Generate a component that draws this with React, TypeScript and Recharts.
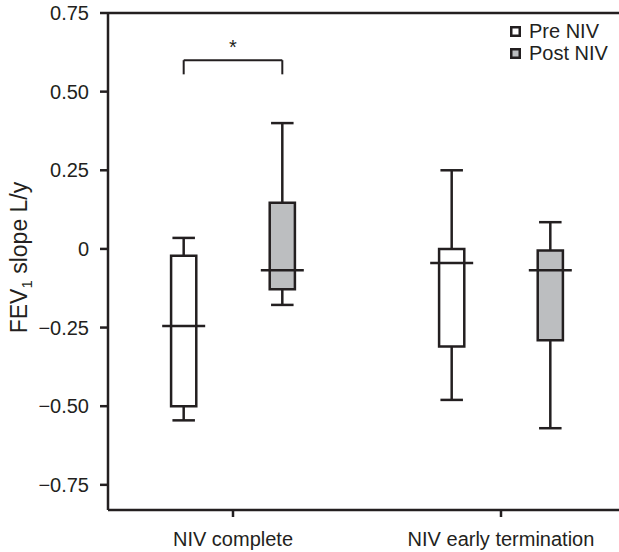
import {
  ComposedChart,
  XAxis,
  YAxis,
  Scatter,
  ReferenceArea,
  ReferenceLine,
  ReferenceDot,
  Legend,
} from 'recharts';

const groups = ['NIV complete', 'NIV early termination'];

// Pre NIV box stats per group
const preMin = [-0.545, -0.48];
const preQ1 = [-0.5, -0.31];
const preMedian = [-0.245, -0.045];
const preQ3 = [-0.022, 0.0];
const preMax = [0.035, 0.25];

// Post NIV box stats per group
const postMin = [-0.178, -0.57];
const postQ1 = [-0.128, -0.29];
const postMedian = [-0.068, -0.068];
const postQ3 = [0.147, -0.005];
const postMax = [0.4, 0.085];

const yTicks = [-0.75, -0.5, -0.25, 0, 0.25, 0.5, 0.75];

// significance bracket on "NIV complete"
const sigGroup = 0;
const sigBar = 0.6;
const sigLeg = 0.555;
const sigStar = 0.655;

const INK = '#231f20';
const GREY = '#bcbec0';
const FONT = '"Liberation Sans", Arial, sans-serif';

const OFFSET = 0.184; // box centre distance from group tick, in x units
const HALF_BOX = 0.047;
const HALF_CAP = 0.042;

const series = [
  { name: 'Pre NIV', fill: '#ffffff', side: -1, min: preMin, q1: preQ1, med: preMedian, q3: preQ3, max: preMax },
  { name: 'Post NIV', fill: GREY, side: 1, min: postMin, q1: postQ1, med: postMedian, q3: postQ3, max: postMax },
];

const boxes = series.flatMap((s) =>
  groups.map((g, i) => ({
    id: `${s.name}-${g}`,
    fill: s.fill,
    x: i + s.side * OFFSET,
    min: s.min[i],
    q1: s.q1[i],
    q3: s.q3[i],
    max: s.max[i],
  }))
);

const fmt = (v: number) => (v === 0 ? '0' : (v < 0 ? '\u2212' : '') + Math.abs(v).toFixed(2));

const MedianLine = (props: any) => {
  const { cx, cy } = props;
  return <line x1={cx - 21.5} x2={cx + 21.5} y1={cy} y2={cy} stroke={INK} strokeWidth={2.5} />;
};

const Star = (props: any) => (
  <text x={props.cx} y={props.cy} dy="0.55em" textAnchor="middle" fontSize={20} fill={INK} fontFamily={FONT}>
    *
  </text>
);

const YLabel = (props: any) => {
  const vb = props.viewBox || {};
  const x = 19;
  const y = (vb.y ?? 13) + (vb.height ?? 497) / 2 - 4;
  return (
    <text
      x={x}
      y={y}
      dy="0.35em"
      textAnchor="middle"
      transform={`rotate(-90, ${x}, ${y})`}
      fontSize={23}
      fill={INK}
      fontFamily={FONT}
    >
      FEV
      <tspan fontSize={15} dy={5}>1</tspan>
      <tspan dy={-5}> slope L/y</tspan>
    </text>
  );
};

// keep the legend in series order (Pre above Post)
const LegendBox = (props: any) => {
  const items = props.payload || [];
  return (
    <div style={{ fontFamily: FONT, fontSize: 20, color: INK }}>
      {series.map((s) => {
        const e = items.find((p: any) => p.value === s.name);
        return (
          <div key={s.name} style={{ display: 'flex', alignItems: 'center', height: 22, lineHeight: '22px' }}>
            <svg width={11} height={11} style={{ flex: '0 0 auto', marginRight: 8 }}>
              <rect x={1.25} y={1.25} width={8.5} height={8.5} fill={s.fill || (e && e.color)} stroke={INK} strokeWidth={2.5} />
            </svg>
            {s.name}
          </div>
        );
      })}
    </div>
  );
};

export default function App() {
  return (
    <div style={{ position: 'absolute', left: 0, top: 0, width: 619, height: 552, background: '#fff' }}>
      <ComposedChart
        width={619}
        height={552}
        margin={{ top: 13, right: 0, bottom: 0, left: 0 }}
        style={{ fontFamily: FONT }}
      >
        <XAxis
          type="number"
          dataKey="x"
          domain={[-0.4664, 1.4403]}
          allowDataOverflow
          ticks={[0, 1]}
          tickFormatter={(i: number) => groups[i] ?? ''}
          height={42}
          axisLine={{ stroke: INK, strokeWidth: 2.5 }}
          tickLine={{ stroke: INK, strokeWidth: 2.5 }}
          tickSize={7}
          tickMargin={15}
          tick={{ fill: INK, fontSize: 20 }}
        />
        <YAxis
          type="number"
          domain={[-0.83, 0.75]}
          allowDataOverflow
          ticks={yTicks}
          tickFormatter={fmt}
          width={108}
          axisLine={{ stroke: INK, strokeWidth: 2.5 }}
          tickLine={{ stroke: INK, strokeWidth: 2.5 }}
          tickSize={8}
          tickMargin={11}
          tick={{ fill: INK, fontSize: 20 }}
          label={<YLabel />}
        />
        <ReferenceLine y={0.75} stroke={INK} strokeWidth={2.5} />

        {boxes.map((b) => (
          <ReferenceLine
            key={`wu-${b.id}`}
            segment={[{ x: b.x, y: b.q3 }, { x: b.x, y: b.max }]}
            stroke={INK}
            strokeWidth={2.5}
          />
        ))}
        {boxes.map((b) => (
          <ReferenceLine
            key={`wl-${b.id}`}
            segment={[{ x: b.x, y: b.q1 }, { x: b.x, y: b.min }]}
            stroke={INK}
            strokeWidth={2.5}
          />
        ))}
        {boxes.map((b) => (
          <ReferenceLine
            key={`cu-${b.id}`}
            segment={[{ x: b.x - HALF_CAP, y: b.max }, { x: b.x + HALF_CAP, y: b.max }]}
            stroke={INK}
            strokeWidth={2.5}
          />
        ))}
        {boxes.map((b) => (
          <ReferenceLine
            key={`cl-${b.id}`}
            segment={[{ x: b.x - HALF_CAP, y: b.min }, { x: b.x + HALF_CAP, y: b.min }]}
            stroke={INK}
            strokeWidth={2.5}
          />
        ))}
        {boxes.map((b) => (
          <ReferenceArea
            key={`box-${b.id}`}
            x1={b.x - HALF_BOX}
            x2={b.x + HALF_BOX}
            y1={b.q1}
            y2={b.q3}
            fill={b.fill}
            fillOpacity={1}
            stroke={INK}
            strokeWidth={2.5}
          />
        ))}

        {/* significance bracket */}
        <ReferenceLine
          segment={[{ x: sigGroup - OFFSET, y: sigBar }, { x: sigGroup + OFFSET, y: sigBar }]}
          stroke={INK}
          strokeWidth={2}
        />
        <ReferenceLine
          segment={[{ x: sigGroup - OFFSET, y: sigBar }, { x: sigGroup - OFFSET, y: sigLeg }]}
          stroke={INK}
          strokeWidth={2}
        />
        <ReferenceLine
          segment={[{ x: sigGroup + OFFSET, y: sigBar }, { x: sigGroup + OFFSET, y: sigLeg }]}
          stroke={INK}
          strokeWidth={2}
        />
        <ReferenceDot x={sigGroup} y={sigStar} r={0} shape={Star} />

        {series.map((s) => (
          <Scatter
            key={s.name}
            name={s.name}
            data={groups.map((g, i) => ({ x: i + s.side * OFFSET, y: s.med[i] }))}
            dataKey="y"
            fill={s.fill}
            shape={MedianLine}
            legendType="square"
            isAnimationActive={false}
          />
        ))}

        <Legend
          layout="vertical"
          align="center"
          verticalAlign="middle"
          content={<LegendBox />}
          wrapperStyle={{ top: 20, left: 510, width: 110 }}
        />
      </ComposedChart>
    </div>
  );
}
